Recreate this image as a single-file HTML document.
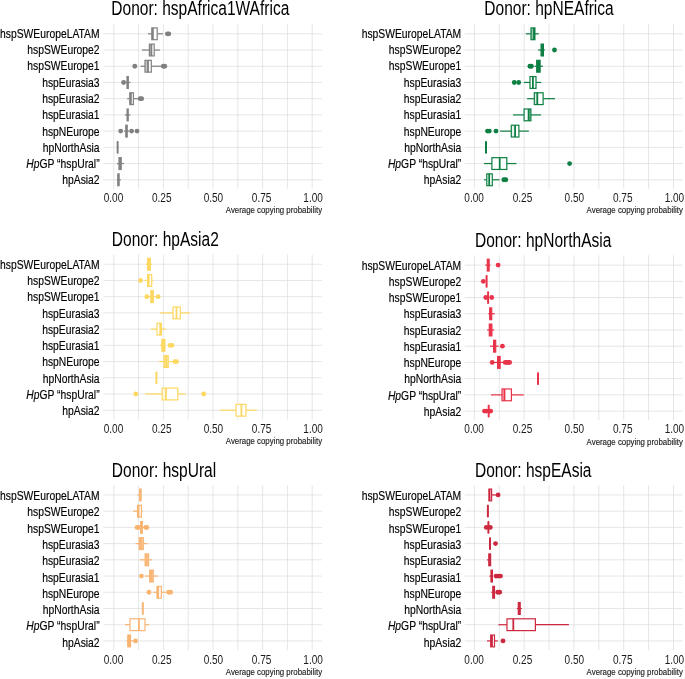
<!DOCTYPE html>
<html lang="en"><head><meta charset="utf-8"><title>Average copying probability by donor</title>
<style>html,body{margin:0;padding:0;background:#fff}svg{display:block;will-change:transform}</style></head>
<body>
<svg width="685" height="679" viewBox="0 0 685 679" font-family="'Liberation Sans', sans-serif">
<rect width="685" height="679" fill="#fff"/>
<g>
<text x="111.30" y="14.85" font-size="19.6" text-anchor="start" fill="#000" textLength="178.00" lengthAdjust="spacingAndGlyphs">Donor: hspAfrica1WAfrica</text>
<path d="M113.80 23.90V188.78M138.60 23.90V188.78M163.40 23.90V188.78M188.20 23.90V188.78M213.00 23.90V188.78M237.80 23.90V188.78M262.60 23.90V188.78M287.40 23.90V188.78M312.20 23.90V188.78M103.40 33.80H321.90M103.40 50.02H321.90M103.40 66.24H321.90M103.40 82.46H321.90M103.40 98.68H321.90M103.40 114.90H321.90M103.40 131.12H321.90M103.40 147.34H321.90M103.40 163.56H321.90M103.40 179.78H321.90" stroke="#dedede" stroke-width="0.75" fill="none"/>
<text x="99.60" y="37.90" font-size="12.6" text-anchor="end" fill="#000" textLength="99.53" lengthAdjust="spacingAndGlyphs" stroke="#000" stroke-width="0.16">hspSWEuropeLATAM</text>
<text x="99.60" y="54.17" font-size="12.6" text-anchor="end" fill="#000" textLength="72.36" lengthAdjust="spacingAndGlyphs" stroke="#000" stroke-width="0.16">hspSWEurope2</text>
<text x="99.60" y="70.44" font-size="12.6" text-anchor="end" fill="#000" textLength="72.36" lengthAdjust="spacingAndGlyphs" stroke="#000" stroke-width="0.16">hspSWEurope1</text>
<text x="99.60" y="86.71" font-size="12.6" text-anchor="end" fill="#000" textLength="57.44" lengthAdjust="spacingAndGlyphs" stroke="#000" stroke-width="0.16">hspEurasia3</text>
<text x="99.60" y="102.98" font-size="12.6" text-anchor="end" fill="#000" textLength="57.44" lengthAdjust="spacingAndGlyphs" stroke="#000" stroke-width="0.16">hspEurasia2</text>
<text x="99.60" y="119.25" font-size="12.6" text-anchor="end" fill="#000" textLength="57.44" lengthAdjust="spacingAndGlyphs" stroke="#000" stroke-width="0.16">hspEurasia1</text>
<text x="99.60" y="135.52" font-size="12.6" text-anchor="end" fill="#000" textLength="57.44" lengthAdjust="spacingAndGlyphs" stroke="#000" stroke-width="0.16">hspNEurope</text>
<text x="99.60" y="151.79" font-size="12.6" text-anchor="end" fill="#000" textLength="56.86" lengthAdjust="spacingAndGlyphs" stroke="#000" stroke-width="0.16">hpNorthAsia</text>
<text x="26.30" y="168.06" font-size="12.6" font-style="italic" stroke="#000" stroke-width="0.16" textLength="13.21" lengthAdjust="spacingAndGlyphs">Hp</text>
<text x="39.50" y="168.06" font-size="12.6" stroke="#000" stroke-width="0.16" textLength="60.10" lengthAdjust="spacingAndGlyphs">GP “hspUral”</text>
<text x="99.60" y="184.33" font-size="12.6" text-anchor="end" fill="#000" textLength="37.34" lengthAdjust="spacingAndGlyphs" stroke="#000" stroke-width="0.16">hpAsia2</text>
<text x="113.50" y="201.68" font-size="12.4" text-anchor="middle" fill="#1a1a1a" textLength="19.55" lengthAdjust="spacingAndGlyphs">0.00</text>
<text x="161.70" y="201.68" font-size="12.4" text-anchor="middle" fill="#1a1a1a" textLength="19.55" lengthAdjust="spacingAndGlyphs">0.25</text>
<text x="213.40" y="201.68" font-size="12.4" text-anchor="middle" fill="#1a1a1a" textLength="19.55" lengthAdjust="spacingAndGlyphs">0.50</text>
<text x="261.60" y="201.68" font-size="12.4" text-anchor="middle" fill="#1a1a1a" textLength="19.55" lengthAdjust="spacingAndGlyphs">0.75</text>
<text x="313.10" y="201.68" font-size="12.4" text-anchor="middle" fill="#1a1a1a" textLength="19.55" lengthAdjust="spacingAndGlyphs">1.00</text>
<text x="322.10" y="212.98" font-size="8.8" text-anchor="end" fill="#222" textLength="96.29" lengthAdjust="spacingAndGlyphs" stroke="#222" stroke-width="0.15">Average copying probability</text>
<path d="M148.00 33.80H151.80" stroke="#808080" stroke-width="1.2"/>
<path d="M157.20 33.80H162.90" stroke="#808080" stroke-width="1.2"/>
<rect x="151.80" y="27.90" width="5.40" height="11.80" fill="#fff" stroke="#808080" stroke-width="1.2"/>
<rect x="151.80" y="27.90" width="1.10" height="11.80" fill="#808080" fill-opacity="1"/>
<path d="M152.90 27.90V39.70" stroke="#808080" stroke-width="1.8"/>
<circle cx="167.40" cy="33.80" r="2.42" fill="#808080"/>
<circle cx="168.80" cy="33.80" r="2.42" fill="#808080"/>
<path d="M142.00 50.02H149.40" stroke="#808080" stroke-width="1.2"/>
<path d="M154.20 50.02H159.90" stroke="#808080" stroke-width="1.2"/>
<rect x="149.40" y="44.12" width="4.80" height="11.80" fill="#fff" stroke="#808080" stroke-width="1.2"/>
<rect x="149.40" y="44.12" width="2.00" height="11.80" fill="#808080" fill-opacity="0.45"/>
<path d="M151.40 44.12V55.92" stroke="#808080" stroke-width="1.8"/>
<path d="M140.70 66.24H145.00" stroke="#808080" stroke-width="1.2"/>
<path d="M151.30 66.24H161.10" stroke="#808080" stroke-width="1.2"/>
<rect x="145.00" y="60.34" width="6.30" height="11.80" fill="#fff" stroke="#808080" stroke-width="1.2"/>
<rect x="145.00" y="60.34" width="3.00" height="11.80" fill="#808080" fill-opacity="0.45"/>
<path d="M148.00 60.34V72.14" stroke="#808080" stroke-width="1.8"/>
<circle cx="134.80" cy="66.24" r="2.42" fill="#808080"/>
<circle cx="163.30" cy="66.24" r="2.42" fill="#808080"/>
<circle cx="164.80" cy="66.24" r="2.42" fill="#808080"/>
<path d="M125.30 82.46H127.00" stroke="#808080" stroke-width="1.2"/>
<path d="M128.30 82.46H130.40" stroke="#808080" stroke-width="1.2"/>
<rect x="127.00" y="76.56" width="1.30" height="11.80" fill="#808080" stroke="#808080" stroke-width="1.2"/>
<circle cx="123.60" cy="82.46" r="2.42" fill="#808080"/>
<path d="M127.20 98.68H129.80" stroke="#808080" stroke-width="1.2"/>
<path d="M133.40 98.68H138.10" stroke="#808080" stroke-width="1.2"/>
<rect x="129.80" y="92.78" width="3.60" height="11.80" fill="#fff" stroke="#808080" stroke-width="1.2"/>
<rect x="129.80" y="92.78" width="1.10" height="11.80" fill="#808080" fill-opacity="1"/>
<path d="M130.90 92.78V104.58" stroke="#808080" stroke-width="1.8"/>
<circle cx="140.20" cy="98.68" r="2.42" fill="#808080"/>
<circle cx="141.70" cy="98.68" r="2.42" fill="#808080"/>
<path d="M124.80 114.90H127.10" stroke="#808080" stroke-width="1.2"/>
<path d="M128.20 114.90H130.40" stroke="#808080" stroke-width="1.2"/>
<rect x="127.10" y="109.00" width="1.10" height="11.80" fill="#808080" stroke="#808080" stroke-width="1.2"/>
<path d="M124.00 131.12H125.80" stroke="#808080" stroke-width="1.2"/>
<path d="M127.20 131.12H129.00" stroke="#808080" stroke-width="1.2"/>
<rect x="125.80" y="125.22" width="1.40" height="11.80" fill="#808080" stroke="#808080" stroke-width="1.2"/>
<circle cx="120.70" cy="131.12" r="2.42" fill="#808080"/>
<circle cx="131.60" cy="131.12" r="2.42" fill="#808080"/>
<circle cx="137.00" cy="131.12" r="2.42" fill="#808080"/>
<rect x="116.65" y="140.94" width="2" height="12.80" rx="0.8" fill="#808080"/>
<path d="M117.00 163.56H119.00" stroke="#808080" stroke-width="1.2"/>
<path d="M121.20 163.56H123.90" stroke="#808080" stroke-width="1.2"/>
<rect x="119.00" y="157.66" width="2.20" height="11.80" fill="#fff" stroke="#808080" stroke-width="1.2"/>
<rect x="119.00" y="157.66" width="1.10" height="11.80" fill="#808080" fill-opacity="0.5"/>
<rect x="120.10" y="157.66" width="1.10" height="11.80" fill="#808080" fill-opacity="0.5"/>
<path d="M120.10 157.66V169.46" stroke="#808080" stroke-width="1.8"/>
<path d="M116.80 179.78H117.80" stroke="#808080" stroke-width="1.2"/>
<path d="M119.10 179.78H120.80" stroke="#808080" stroke-width="1.2"/>
<rect x="117.80" y="173.88" width="1.30" height="11.80" fill="#808080" stroke="#808080" stroke-width="1.2"/>
</g>
<g>
<text x="484.30" y="14.85" font-size="19.6" text-anchor="start" fill="#000" textLength="129.42" lengthAdjust="spacingAndGlyphs">Donor: hpNEAfrica</text>
<path d="M474.40 23.90V188.78M499.29 23.90V188.78M524.17 23.90V188.78M549.06 23.90V188.78M573.95 23.90V188.78M598.84 23.90V188.78M623.72 23.90V188.78M648.61 23.90V188.78M673.50 23.90V188.78M464.70 33.80H682.70M464.70 50.02H682.70M464.70 66.24H682.70M464.70 82.46H682.70M464.70 98.68H682.70M464.70 114.90H682.70M464.70 131.12H682.70M464.70 147.34H682.70M464.70 163.56H682.70M464.70 179.78H682.70" stroke="#dedede" stroke-width="0.75" fill="none"/>
<text x="461.20" y="37.90" font-size="12.6" text-anchor="end" fill="#000" textLength="99.53" lengthAdjust="spacingAndGlyphs" stroke="#000" stroke-width="0.16">hspSWEuropeLATAM</text>
<text x="461.20" y="54.17" font-size="12.6" text-anchor="end" fill="#000" textLength="72.36" lengthAdjust="spacingAndGlyphs" stroke="#000" stroke-width="0.16">hspSWEurope2</text>
<text x="461.20" y="70.44" font-size="12.6" text-anchor="end" fill="#000" textLength="72.36" lengthAdjust="spacingAndGlyphs" stroke="#000" stroke-width="0.16">hspSWEurope1</text>
<text x="461.20" y="86.71" font-size="12.6" text-anchor="end" fill="#000" textLength="57.44" lengthAdjust="spacingAndGlyphs" stroke="#000" stroke-width="0.16">hspEurasia3</text>
<text x="461.20" y="102.98" font-size="12.6" text-anchor="end" fill="#000" textLength="57.44" lengthAdjust="spacingAndGlyphs" stroke="#000" stroke-width="0.16">hspEurasia2</text>
<text x="461.20" y="119.25" font-size="12.6" text-anchor="end" fill="#000" textLength="57.44" lengthAdjust="spacingAndGlyphs" stroke="#000" stroke-width="0.16">hspEurasia1</text>
<text x="461.20" y="135.52" font-size="12.6" text-anchor="end" fill="#000" textLength="57.44" lengthAdjust="spacingAndGlyphs" stroke="#000" stroke-width="0.16">hspNEurope</text>
<text x="461.20" y="151.79" font-size="12.6" text-anchor="end" fill="#000" textLength="56.86" lengthAdjust="spacingAndGlyphs" stroke="#000" stroke-width="0.16">hpNorthAsia</text>
<text x="387.90" y="168.06" font-size="12.6" font-style="italic" stroke="#000" stroke-width="0.16" textLength="13.21" lengthAdjust="spacingAndGlyphs">Hp</text>
<text x="401.10" y="168.06" font-size="12.6" stroke="#000" stroke-width="0.16" textLength="60.10" lengthAdjust="spacingAndGlyphs">GP “hspUral”</text>
<text x="461.20" y="184.33" font-size="12.6" text-anchor="end" fill="#000" textLength="37.34" lengthAdjust="spacingAndGlyphs" stroke="#000" stroke-width="0.16">hpAsia2</text>
<text x="474.10" y="201.68" font-size="12.4" text-anchor="middle" fill="#1a1a1a" textLength="19.55" lengthAdjust="spacingAndGlyphs">0.00</text>
<text x="522.47" y="201.68" font-size="12.4" text-anchor="middle" fill="#1a1a1a" textLength="19.55" lengthAdjust="spacingAndGlyphs">0.25</text>
<text x="574.35" y="201.68" font-size="12.4" text-anchor="middle" fill="#1a1a1a" textLength="19.55" lengthAdjust="spacingAndGlyphs">0.50</text>
<text x="622.72" y="201.68" font-size="12.4" text-anchor="middle" fill="#1a1a1a" textLength="19.55" lengthAdjust="spacingAndGlyphs">0.75</text>
<text x="674.40" y="201.68" font-size="12.4" text-anchor="middle" fill="#1a1a1a" textLength="19.55" lengthAdjust="spacingAndGlyphs">1.00</text>
<text x="682.90" y="212.98" font-size="8.8" text-anchor="end" fill="#222" textLength="96.29" lengthAdjust="spacingAndGlyphs" stroke="#222" stroke-width="0.15">Average copying probability</text>
<path d="M525.80 33.80H531.00" stroke="#0d7f43" stroke-width="1.2"/>
<path d="M534.90 33.80H538.80" stroke="#0d7f43" stroke-width="1.2"/>
<rect x="531.00" y="27.90" width="3.90" height="11.80" fill="#fff" stroke="#0d7f43" stroke-width="1.2"/>
<rect x="531.00" y="27.90" width="3.00" height="11.80" fill="#0d7f43" fill-opacity="0.45"/>
<rect x="534.00" y="27.90" width="0.90" height="11.80" fill="#0d7f43" fill-opacity="1"/>
<path d="M534.00 27.90V39.70" stroke="#0d7f43" stroke-width="1.8"/>
<path d="M538.10 50.02H541.10" stroke="#0d7f43" stroke-width="1.2"/>
<path d="M543.40 50.02H545.00" stroke="#0d7f43" stroke-width="1.2"/>
<rect x="541.10" y="44.12" width="2.30" height="11.80" fill="#0d7f43" stroke="#0d7f43" stroke-width="1.2"/>
<circle cx="554.50" cy="50.02" r="2.42" fill="#0d7f43"/>
<path d="M534.50 66.24H536.70" stroke="#0d7f43" stroke-width="1.2"/>
<path d="M540.10 66.24H542.90" stroke="#0d7f43" stroke-width="1.2"/>
<rect x="536.70" y="60.34" width="3.40" height="11.80" fill="#0d7f43" stroke="#0d7f43" stroke-width="1.2"/>
<circle cx="529.90" cy="66.24" r="2.42" fill="#0d7f43"/>
<circle cx="531.40" cy="66.24" r="2.42" fill="#0d7f43"/>
<path d="M523.80 82.46H530.00" stroke="#0d7f43" stroke-width="1.2"/>
<path d="M536.00 82.46H541.10" stroke="#0d7f43" stroke-width="1.2"/>
<rect x="530.00" y="76.56" width="6.00" height="11.80" fill="#fff" stroke="#0d7f43" stroke-width="1.2"/>
<path d="M532.90 76.56V88.36" stroke="#0d7f43" stroke-width="1.8"/>
<circle cx="514.30" cy="82.46" r="2.42" fill="#0d7f43"/>
<circle cx="518.70" cy="82.46" r="2.42" fill="#0d7f43"/>
<path d="M527.10 98.68H534.30" stroke="#0d7f43" stroke-width="1.2"/>
<path d="M543.10 98.68H555.00" stroke="#0d7f43" stroke-width="1.2"/>
<rect x="534.30" y="92.78" width="8.80" height="11.80" fill="#fff" stroke="#0d7f43" stroke-width="1.2"/>
<rect x="534.30" y="92.78" width="3.00" height="11.80" fill="#0d7f43" fill-opacity="0.15"/>
<path d="M537.30 92.78V104.58" stroke="#0d7f43" stroke-width="1.8"/>
<path d="M513.10 114.90H524.10" stroke="#0d7f43" stroke-width="1.2"/>
<path d="M530.90 114.90H541.10" stroke="#0d7f43" stroke-width="1.2"/>
<rect x="524.10" y="109.00" width="6.80" height="11.80" fill="#fff" stroke="#0d7f43" stroke-width="1.2"/>
<rect x="528.60" y="109.00" width="2.30" height="11.80" fill="#0d7f43" fill-opacity="0.45"/>
<path d="M528.60 109.00V120.80" stroke="#0d7f43" stroke-width="1.8"/>
<path d="M500.10 131.12H511.30" stroke="#0d7f43" stroke-width="1.2"/>
<path d="M518.90 131.12H528.80" stroke="#0d7f43" stroke-width="1.2"/>
<rect x="511.30" y="125.22" width="7.60" height="11.80" fill="#fff" stroke="#0d7f43" stroke-width="1.2"/>
<rect x="511.30" y="125.22" width="3.80" height="11.80" fill="#0d7f43" fill-opacity="0.1"/>
<path d="M515.10 125.22V137.02" stroke="#0d7f43" stroke-width="1.8"/>
<circle cx="487.50" cy="131.12" r="2.42" fill="#0d7f43"/>
<circle cx="489.30" cy="131.12" r="2.42" fill="#0d7f43"/>
<circle cx="496.00" cy="131.12" r="2.42" fill="#0d7f43"/>
<rect x="485.00" y="140.94" width="2" height="12.80" rx="0.8" fill="#0d7f43"/>
<path d="M484.10 163.56H491.90" stroke="#0d7f43" stroke-width="1.2"/>
<path d="M506.80 163.56H516.40" stroke="#0d7f43" stroke-width="1.2"/>
<rect x="491.90" y="157.66" width="14.90" height="11.80" fill="#fff" stroke="#0d7f43" stroke-width="1.2"/>
<path d="M499.70 157.66V169.46" stroke="#0d7f43" stroke-width="1.8"/>
<circle cx="569.60" cy="163.56" r="2.42" fill="#0d7f43"/>
<path d="M484.10 179.78H486.80" stroke="#0d7f43" stroke-width="1.2"/>
<path d="M492.30 179.78H499.40" stroke="#0d7f43" stroke-width="1.2"/>
<rect x="486.80" y="173.88" width="5.50" height="11.80" fill="#fff" stroke="#0d7f43" stroke-width="1.2"/>
<path d="M489.20 173.88V185.68" stroke="#0d7f43" stroke-width="1.8"/>
<circle cx="503.80" cy="179.78" r="2.42" fill="#0d7f43"/>
<circle cx="505.80" cy="179.78" r="2.42" fill="#0d7f43"/>
</g>
<g>
<text x="111.80" y="245.76" font-size="19.6" text-anchor="start" fill="#000" textLength="107.00" lengthAdjust="spacingAndGlyphs">Donor: hpAsia2</text>
<path d="M113.80 254.65V419.53M138.60 254.65V419.53M163.40 254.65V419.53M188.20 254.65V419.53M213.00 254.65V419.53M237.80 254.65V419.53M262.60 254.65V419.53M287.40 254.65V419.53M312.20 254.65V419.53M103.40 264.25H321.90M103.40 280.47H321.90M103.40 296.69H321.90M103.40 312.91H321.90M103.40 329.13H321.90M103.40 345.35H321.90M103.40 361.57H321.90M103.40 377.79H321.90M103.40 394.01H321.90M103.40 410.23H321.90" stroke="#dedede" stroke-width="0.75" fill="none"/>
<text x="99.60" y="268.81" font-size="12.6" text-anchor="end" fill="#000" textLength="99.53" lengthAdjust="spacingAndGlyphs" stroke="#000" stroke-width="0.16">hspSWEuropeLATAM</text>
<text x="99.60" y="285.08" font-size="12.6" text-anchor="end" fill="#000" textLength="72.36" lengthAdjust="spacingAndGlyphs" stroke="#000" stroke-width="0.16">hspSWEurope2</text>
<text x="99.60" y="301.35" font-size="12.6" text-anchor="end" fill="#000" textLength="72.36" lengthAdjust="spacingAndGlyphs" stroke="#000" stroke-width="0.16">hspSWEurope1</text>
<text x="99.60" y="317.62" font-size="12.6" text-anchor="end" fill="#000" textLength="57.44" lengthAdjust="spacingAndGlyphs" stroke="#000" stroke-width="0.16">hspEurasia3</text>
<text x="99.60" y="333.89" font-size="12.6" text-anchor="end" fill="#000" textLength="57.44" lengthAdjust="spacingAndGlyphs" stroke="#000" stroke-width="0.16">hspEurasia2</text>
<text x="99.60" y="350.16" font-size="12.6" text-anchor="end" fill="#000" textLength="57.44" lengthAdjust="spacingAndGlyphs" stroke="#000" stroke-width="0.16">hspEurasia1</text>
<text x="99.60" y="366.43" font-size="12.6" text-anchor="end" fill="#000" textLength="57.44" lengthAdjust="spacingAndGlyphs" stroke="#000" stroke-width="0.16">hspNEurope</text>
<text x="99.60" y="382.70" font-size="12.6" text-anchor="end" fill="#000" textLength="56.86" lengthAdjust="spacingAndGlyphs" stroke="#000" stroke-width="0.16">hpNorthAsia</text>
<text x="26.30" y="398.97" font-size="12.6" font-style="italic" stroke="#000" stroke-width="0.16" textLength="13.21" lengthAdjust="spacingAndGlyphs">Hp</text>
<text x="39.50" y="398.97" font-size="12.6" stroke="#000" stroke-width="0.16" textLength="60.10" lengthAdjust="spacingAndGlyphs">GP “hspUral”</text>
<text x="99.60" y="415.24" font-size="12.6" text-anchor="end" fill="#000" textLength="37.34" lengthAdjust="spacingAndGlyphs" stroke="#000" stroke-width="0.16">hpAsia2</text>
<text x="113.50" y="432.63" font-size="12.4" text-anchor="middle" fill="#1a1a1a" textLength="19.55" lengthAdjust="spacingAndGlyphs">0.00</text>
<text x="161.70" y="432.63" font-size="12.4" text-anchor="middle" fill="#1a1a1a" textLength="19.55" lengthAdjust="spacingAndGlyphs">0.25</text>
<text x="213.40" y="432.63" font-size="12.4" text-anchor="middle" fill="#1a1a1a" textLength="19.55" lengthAdjust="spacingAndGlyphs">0.50</text>
<text x="261.60" y="432.63" font-size="12.4" text-anchor="middle" fill="#1a1a1a" textLength="19.55" lengthAdjust="spacingAndGlyphs">0.75</text>
<text x="313.10" y="432.63" font-size="12.4" text-anchor="middle" fill="#1a1a1a" textLength="19.55" lengthAdjust="spacingAndGlyphs">1.00</text>
<text x="322.10" y="443.93" font-size="8.8" text-anchor="end" fill="#222" textLength="96.29" lengthAdjust="spacingAndGlyphs" stroke="#222" stroke-width="0.15">Average copying probability</text>
<path d="M145.90 264.25H147.60" stroke="#fcd862" stroke-width="1.2"/>
<path d="M150.30 264.25H152.00" stroke="#fcd862" stroke-width="1.2"/>
<rect x="147.60" y="258.35" width="2.70" height="11.80" fill="#fcd862" stroke="#fcd862" stroke-width="1.2"/>
<path d="M144.90 280.47H147.60" stroke="#fcd862" stroke-width="1.2"/>
<path d="M151.70 280.47H153.10" stroke="#fcd862" stroke-width="1.2"/>
<rect x="147.60" y="274.57" width="4.10" height="11.80" fill="#fff" stroke="#fcd862" stroke-width="1.2"/>
<rect x="147.60" y="274.57" width="1.10" height="11.80" fill="#fcd862" fill-opacity="1"/>
<path d="M148.70 274.57V286.37" stroke="#fcd862" stroke-width="1.8"/>
<circle cx="140.50" cy="280.47" r="2.42" fill="#fcd862"/>
<path d="M149.00 296.69H150.80" stroke="#fcd862" stroke-width="1.2"/>
<path d="M153.30 296.69H155.70" stroke="#fcd862" stroke-width="1.2"/>
<rect x="150.80" y="290.79" width="2.50" height="11.80" fill="#fcd862" stroke="#fcd862" stroke-width="1.2"/>
<circle cx="146.80" cy="296.69" r="2.42" fill="#fcd862"/>
<circle cx="158.20" cy="296.69" r="2.42" fill="#fcd862"/>
<path d="M160.10 312.91H173.00" stroke="#fcd862" stroke-width="1.2"/>
<path d="M180.30 312.91H190.10" stroke="#fcd862" stroke-width="1.2"/>
<rect x="173.00" y="307.01" width="7.30" height="11.80" fill="#fff" stroke="#fcd862" stroke-width="1.2"/>
<path d="M176.50 307.01V318.81" stroke="#fcd862" stroke-width="1.8"/>
<path d="M151.00 329.13H157.00" stroke="#fcd862" stroke-width="1.2"/>
<path d="M161.40 329.13H166.10" stroke="#fcd862" stroke-width="1.2"/>
<rect x="157.00" y="323.23" width="4.40" height="11.80" fill="#fff" stroke="#fcd862" stroke-width="1.2"/>
<rect x="160.20" y="323.23" width="1.20" height="11.80" fill="#fcd862" fill-opacity="1"/>
<path d="M160.20 323.23V335.03" stroke="#fcd862" stroke-width="1.8"/>
<path d="M160.10 345.35H161.90" stroke="#fcd862" stroke-width="1.2"/>
<rect x="161.90" y="339.45" width="3.00" height="11.80" fill="#fcd862" stroke="#fcd862" stroke-width="1.2"/>
<circle cx="170.10" cy="345.35" r="2.42" fill="#fcd862"/>
<circle cx="171.90" cy="345.35" r="2.42" fill="#fcd862"/>
<path d="M159.00 361.57H164.00" stroke="#fcd862" stroke-width="1.2"/>
<path d="M168.20 361.57H172.40" stroke="#fcd862" stroke-width="1.2"/>
<rect x="164.00" y="355.67" width="4.20" height="11.80" fill="#fff" stroke="#fcd862" stroke-width="1.2"/>
<rect x="164.00" y="355.67" width="2.20" height="11.80" fill="#fcd862" fill-opacity="0.6"/>
<rect x="166.20" y="355.67" width="2.00" height="11.80" fill="#fcd862" fill-opacity="0.6"/>
<path d="M166.20 355.67V367.47" stroke="#fcd862" stroke-width="1.8"/>
<circle cx="174.90" cy="361.57" r="2.42" fill="#fcd862"/>
<circle cx="176.50" cy="361.57" r="2.42" fill="#fcd862"/>
<rect x="155.40" y="371.39" width="2" height="12.80" rx="0.8" fill="#fcd862"/>
<path d="M145.10 394.01H162.20" stroke="#fcd862" stroke-width="1.2"/>
<path d="M177.80 394.01H185.60" stroke="#fcd862" stroke-width="1.2"/>
<rect x="162.20" y="388.11" width="15.60" height="11.80" fill="#fff" stroke="#fcd862" stroke-width="1.2"/>
<rect x="162.20" y="388.11" width="3.80" height="11.80" fill="#fcd862" fill-opacity="0.2"/>
<path d="M166.00 388.11V399.91" stroke="#fcd862" stroke-width="1.8"/>
<circle cx="135.80" cy="394.01" r="2.42" fill="#fcd862"/>
<circle cx="203.70" cy="394.01" r="2.42" fill="#fcd862"/>
<path d="M220.30 410.23H236.00" stroke="#fcd862" stroke-width="1.2"/>
<path d="M245.90 410.23H256.90" stroke="#fcd862" stroke-width="1.2"/>
<rect x="236.00" y="404.33" width="9.90" height="11.80" fill="#fff" stroke="#fcd862" stroke-width="1.2"/>
<path d="M241.40 404.33V416.13" stroke="#fcd862" stroke-width="1.8"/>
</g>
<g>
<text x="475.00" y="246.55" font-size="19.6" text-anchor="start" fill="#000" textLength="136.33" lengthAdjust="spacingAndGlyphs">Donor: hpNorthAsia</text>
<path d="M474.40 255.20V420.08M499.29 255.20V420.08M524.17 255.20V420.08M549.06 255.20V420.08M573.95 255.20V420.08M598.84 255.20V420.08M623.72 255.20V420.08M648.61 255.20V420.08M673.50 255.20V420.08M464.70 265.10H682.70M464.70 281.32H682.70M464.70 297.54H682.70M464.70 313.76H682.70M464.70 329.98H682.70M464.70 346.20H682.70M464.70 362.42H682.70M464.70 378.64H682.70M464.70 394.86H682.70M464.70 411.08H682.70" stroke="#dedede" stroke-width="0.75" fill="none"/>
<text x="461.20" y="269.60" font-size="12.6" text-anchor="end" fill="#000" textLength="99.53" lengthAdjust="spacingAndGlyphs" stroke="#000" stroke-width="0.16">hspSWEuropeLATAM</text>
<text x="461.20" y="285.87" font-size="12.6" text-anchor="end" fill="#000" textLength="72.36" lengthAdjust="spacingAndGlyphs" stroke="#000" stroke-width="0.16">hspSWEurope2</text>
<text x="461.20" y="302.14" font-size="12.6" text-anchor="end" fill="#000" textLength="72.36" lengthAdjust="spacingAndGlyphs" stroke="#000" stroke-width="0.16">hspSWEurope1</text>
<text x="461.20" y="318.41" font-size="12.6" text-anchor="end" fill="#000" textLength="57.44" lengthAdjust="spacingAndGlyphs" stroke="#000" stroke-width="0.16">hspEurasia3</text>
<text x="461.20" y="334.68" font-size="12.6" text-anchor="end" fill="#000" textLength="57.44" lengthAdjust="spacingAndGlyphs" stroke="#000" stroke-width="0.16">hspEurasia2</text>
<text x="461.20" y="350.95" font-size="12.6" text-anchor="end" fill="#000" textLength="57.44" lengthAdjust="spacingAndGlyphs" stroke="#000" stroke-width="0.16">hspEurasia1</text>
<text x="461.20" y="367.22" font-size="12.6" text-anchor="end" fill="#000" textLength="57.44" lengthAdjust="spacingAndGlyphs" stroke="#000" stroke-width="0.16">hspNEurope</text>
<text x="461.20" y="383.49" font-size="12.6" text-anchor="end" fill="#000" textLength="56.86" lengthAdjust="spacingAndGlyphs" stroke="#000" stroke-width="0.16">hpNorthAsia</text>
<text x="387.90" y="399.76" font-size="12.6" font-style="italic" stroke="#000" stroke-width="0.16" textLength="13.21" lengthAdjust="spacingAndGlyphs">Hp</text>
<text x="401.10" y="399.76" font-size="12.6" stroke="#000" stroke-width="0.16" textLength="60.10" lengthAdjust="spacingAndGlyphs">GP “hspUral”</text>
<text x="461.20" y="416.03" font-size="12.6" text-anchor="end" fill="#000" textLength="37.34" lengthAdjust="spacingAndGlyphs" stroke="#000" stroke-width="0.16">hpAsia2</text>
<text x="474.10" y="433.48" font-size="12.4" text-anchor="middle" fill="#1a1a1a" textLength="19.55" lengthAdjust="spacingAndGlyphs">0.00</text>
<text x="522.47" y="433.48" font-size="12.4" text-anchor="middle" fill="#1a1a1a" textLength="19.55" lengthAdjust="spacingAndGlyphs">0.25</text>
<text x="574.35" y="433.48" font-size="12.4" text-anchor="middle" fill="#1a1a1a" textLength="19.55" lengthAdjust="spacingAndGlyphs">0.50</text>
<text x="622.72" y="433.48" font-size="12.4" text-anchor="middle" fill="#1a1a1a" textLength="19.55" lengthAdjust="spacingAndGlyphs">0.75</text>
<text x="674.40" y="433.48" font-size="12.4" text-anchor="middle" fill="#1a1a1a" textLength="19.55" lengthAdjust="spacingAndGlyphs">1.00</text>
<text x="682.90" y="444.78" font-size="8.8" text-anchor="end" fill="#222" textLength="96.29" lengthAdjust="spacingAndGlyphs" stroke="#222" stroke-width="0.15">Average copying probability</text>
<path d="M485.30 265.10H487.30" stroke="#e8334a" stroke-width="1.2"/>
<path d="M489.10 265.10H490.40" stroke="#e8334a" stroke-width="1.2"/>
<rect x="487.30" y="259.20" width="1.80" height="11.80" fill="#e8334a" stroke="#e8334a" stroke-width="1.2"/>
<circle cx="498.10" cy="265.10" r="2.42" fill="#e8334a"/>
<rect x="485.60" y="274.92" width="2" height="12.80" rx="0.8" fill="#e8334a"/>
<circle cx="483.30" cy="281.32" r="2.42" fill="#e8334a"/>
<rect x="487.10" y="291.14" width="2" height="12.80" rx="0.8" fill="#e8334a"/>
<circle cx="485.80" cy="297.54" r="2.42" fill="#e8334a"/>
<circle cx="491.70" cy="297.54" r="2.42" fill="#e8334a"/>
<path d="M488.20 313.76H489.70" stroke="#e8334a" stroke-width="1.2"/>
<path d="M491.70 313.76H494.80" stroke="#e8334a" stroke-width="1.2"/>
<rect x="489.70" y="307.86" width="2.00" height="11.80" fill="#e8334a" stroke="#e8334a" stroke-width="1.2"/>
<path d="M487.10 329.98H489.30" stroke="#e8334a" stroke-width="1.2"/>
<path d="M491.90 329.98H494.20" stroke="#e8334a" stroke-width="1.2"/>
<rect x="489.30" y="324.08" width="2.60" height="11.80" fill="#e8334a" stroke="#e8334a" stroke-width="1.2"/>
<path d="M489.90 346.20H493.60" stroke="#e8334a" stroke-width="1.2"/>
<path d="M495.70 346.20H498.60" stroke="#e8334a" stroke-width="1.2"/>
<rect x="493.60" y="340.30" width="2.10" height="11.80" fill="#e8334a" stroke="#e8334a" stroke-width="1.2"/>
<circle cx="502.40" cy="346.20" r="2.42" fill="#e8334a"/>
<path d="M494.00 362.42H497.60" stroke="#e8334a" stroke-width="1.2"/>
<path d="M500.10 362.42H503.50" stroke="#e8334a" stroke-width="1.2"/>
<rect x="497.60" y="356.52" width="2.50" height="11.80" fill="#e8334a" stroke="#e8334a" stroke-width="1.2"/>
<circle cx="492.20" cy="362.42" r="2.42" fill="#e8334a"/>
<circle cx="505.20" cy="362.42" r="2.42" fill="#e8334a"/>
<circle cx="506.70" cy="362.42" r="2.42" fill="#e8334a"/>
<circle cx="508.20" cy="362.42" r="2.42" fill="#e8334a"/>
<circle cx="509.60" cy="362.42" r="2.42" fill="#e8334a"/>
<rect x="537.00" y="372.24" width="2" height="12.80" rx="0.8" fill="#e8334a"/>
<path d="M490.90 394.86H502.00" stroke="#e8334a" stroke-width="1.2"/>
<path d="M511.40 394.86H523.80" stroke="#e8334a" stroke-width="1.2"/>
<rect x="502.00" y="388.96" width="9.40" height="11.80" fill="#fff" stroke="#e8334a" stroke-width="1.2"/>
<rect x="502.00" y="388.96" width="2.50" height="11.80" fill="#e8334a" fill-opacity="0.35"/>
<path d="M504.50 388.96V400.76" stroke="#e8334a" stroke-width="1.8"/>
<rect x="487.70" y="404.68" width="2" height="12.80" rx="0.8" fill="#e8334a"/>
<circle cx="484.50" cy="411.08" r="2.42" fill="#e8334a"/>
<circle cx="486.50" cy="411.08" r="2.42" fill="#e8334a"/>
<circle cx="490.70" cy="411.08" r="2.42" fill="#e8334a"/>
</g>
<g>
<text x="111.80" y="477.10" font-size="19.6" text-anchor="start" fill="#000" textLength="104.40" lengthAdjust="spacingAndGlyphs">Donor: hspUral</text>
<path d="M113.80 485.35V650.23M138.60 485.35V650.23M163.40 485.35V650.23M188.20 485.35V650.23M213.00 485.35V650.23M237.80 485.35V650.23M262.60 485.35V650.23M287.40 485.35V650.23M312.20 485.35V650.23M103.40 494.95H321.90M103.40 511.17H321.90M103.40 527.39H321.90M103.40 543.61H321.90M103.40 559.83H321.90M103.40 576.05H321.90M103.40 592.27H321.90M103.40 608.49H321.90M103.40 624.71H321.90M103.40 640.93H321.90" stroke="#dedede" stroke-width="0.75" fill="none"/>
<text x="99.60" y="500.15" font-size="12.6" text-anchor="end" fill="#000" textLength="99.53" lengthAdjust="spacingAndGlyphs" stroke="#000" stroke-width="0.16">hspSWEuropeLATAM</text>
<text x="99.60" y="516.42" font-size="12.6" text-anchor="end" fill="#000" textLength="72.36" lengthAdjust="spacingAndGlyphs" stroke="#000" stroke-width="0.16">hspSWEurope2</text>
<text x="99.60" y="532.69" font-size="12.6" text-anchor="end" fill="#000" textLength="72.36" lengthAdjust="spacingAndGlyphs" stroke="#000" stroke-width="0.16">hspSWEurope1</text>
<text x="99.60" y="548.96" font-size="12.6" text-anchor="end" fill="#000" textLength="57.44" lengthAdjust="spacingAndGlyphs" stroke="#000" stroke-width="0.16">hspEurasia3</text>
<text x="99.60" y="565.23" font-size="12.6" text-anchor="end" fill="#000" textLength="57.44" lengthAdjust="spacingAndGlyphs" stroke="#000" stroke-width="0.16">hspEurasia2</text>
<text x="99.60" y="581.50" font-size="12.6" text-anchor="end" fill="#000" textLength="57.44" lengthAdjust="spacingAndGlyphs" stroke="#000" stroke-width="0.16">hspEurasia1</text>
<text x="99.60" y="597.77" font-size="12.6" text-anchor="end" fill="#000" textLength="57.44" lengthAdjust="spacingAndGlyphs" stroke="#000" stroke-width="0.16">hspNEurope</text>
<text x="99.60" y="614.04" font-size="12.6" text-anchor="end" fill="#000" textLength="56.86" lengthAdjust="spacingAndGlyphs" stroke="#000" stroke-width="0.16">hpNorthAsia</text>
<text x="26.30" y="630.31" font-size="12.6" font-style="italic" stroke="#000" stroke-width="0.16" textLength="13.21" lengthAdjust="spacingAndGlyphs">Hp</text>
<text x="39.50" y="630.31" font-size="12.6" stroke="#000" stroke-width="0.16" textLength="60.10" lengthAdjust="spacingAndGlyphs">GP “hspUral”</text>
<text x="99.60" y="646.58" font-size="12.6" text-anchor="end" fill="#000" textLength="37.34" lengthAdjust="spacingAndGlyphs" stroke="#000" stroke-width="0.16">hpAsia2</text>
<text x="113.50" y="664.13" font-size="12.4" text-anchor="middle" fill="#1a1a1a" textLength="19.55" lengthAdjust="spacingAndGlyphs">0.00</text>
<text x="161.70" y="664.13" font-size="12.4" text-anchor="middle" fill="#1a1a1a" textLength="19.55" lengthAdjust="spacingAndGlyphs">0.25</text>
<text x="213.40" y="664.13" font-size="12.4" text-anchor="middle" fill="#1a1a1a" textLength="19.55" lengthAdjust="spacingAndGlyphs">0.50</text>
<text x="261.60" y="664.13" font-size="12.4" text-anchor="middle" fill="#1a1a1a" textLength="19.55" lengthAdjust="spacingAndGlyphs">0.75</text>
<text x="313.10" y="664.13" font-size="12.4" text-anchor="middle" fill="#1a1a1a" textLength="19.55" lengthAdjust="spacingAndGlyphs">1.00</text>
<text x="322.10" y="675.43" font-size="8.8" text-anchor="end" fill="#222" textLength="96.29" lengthAdjust="spacingAndGlyphs" stroke="#222" stroke-width="0.15">Average copying probability</text>
<path d="M137.40 494.95H139.70" stroke="#f9b472" stroke-width="1.2"/>
<rect x="139.70" y="489.05" width="1.40" height="11.80" fill="#f9b472" stroke="#f9b472" stroke-width="1.2"/>
<path d="M133.00 511.17H137.50" stroke="#f9b472" stroke-width="1.2"/>
<path d="M141.40 511.17H142.70" stroke="#f9b472" stroke-width="1.2"/>
<rect x="137.50" y="505.27" width="3.90" height="11.80" fill="#fff" stroke="#f9b472" stroke-width="1.2"/>
<rect x="137.50" y="505.27" width="1.10" height="11.80" fill="#f9b472" fill-opacity="1"/>
<path d="M138.60 505.27V517.07" stroke="#f9b472" stroke-width="1.8"/>
<path d="M138.50 527.39H140.70" stroke="#f9b472" stroke-width="1.2"/>
<path d="M142.30 527.39H145.50" stroke="#f9b472" stroke-width="1.2"/>
<rect x="140.70" y="521.49" width="1.60" height="11.80" fill="#f9b472" stroke="#f9b472" stroke-width="1.2"/>
<circle cx="137.00" cy="527.39" r="2.42" fill="#f9b472"/>
<circle cx="138.50" cy="527.39" r="2.42" fill="#f9b472"/>
<circle cx="145.80" cy="527.39" r="2.42" fill="#f9b472"/>
<circle cx="146.80" cy="527.39" r="2.42" fill="#f9b472"/>
<path d="M135.50 543.61H139.20" stroke="#f9b472" stroke-width="1.2"/>
<path d="M143.30 543.61H147.30" stroke="#f9b472" stroke-width="1.2"/>
<rect x="139.20" y="537.71" width="4.10" height="11.80" fill="#fff" stroke="#f9b472" stroke-width="1.2"/>
<rect x="139.20" y="537.71" width="1.80" height="11.80" fill="#f9b472" fill-opacity="0.6"/>
<rect x="141.00" y="537.71" width="2.30" height="11.80" fill="#f9b472" fill-opacity="0.6"/>
<path d="M141.00 537.71V549.51" stroke="#f9b472" stroke-width="1.8"/>
<path d="M139.60 559.83H145.10" stroke="#f9b472" stroke-width="1.2"/>
<path d="M148.50 559.83H151.90" stroke="#f9b472" stroke-width="1.2"/>
<rect x="145.10" y="553.93" width="3.40" height="11.80" fill="#fff" stroke="#f9b472" stroke-width="1.2"/>
<rect x="145.10" y="553.93" width="1.50" height="11.80" fill="#f9b472" fill-opacity="0.6"/>
<rect x="146.60" y="553.93" width="1.90" height="11.80" fill="#f9b472" fill-opacity="0.6"/>
<path d="M146.60 553.93V565.73" stroke="#f9b472" stroke-width="1.8"/>
<path d="M145.00 576.05H149.70" stroke="#f9b472" stroke-width="1.2"/>
<path d="M153.30 576.05H157.80" stroke="#f9b472" stroke-width="1.2"/>
<rect x="149.70" y="570.15" width="3.60" height="11.80" fill="#fff" stroke="#f9b472" stroke-width="1.2"/>
<rect x="149.70" y="570.15" width="1.60" height="11.80" fill="#f9b472" fill-opacity="0.7"/>
<rect x="151.30" y="570.15" width="2.00" height="11.80" fill="#f9b472" fill-opacity="0.7"/>
<path d="M151.30 570.15V581.95" stroke="#f9b472" stroke-width="1.8"/>
<circle cx="141.40" cy="576.05" r="2.42" fill="#f9b472"/>
<path d="M153.30 592.27H157.00" stroke="#f9b472" stroke-width="1.2"/>
<path d="M161.30 592.27H166.20" stroke="#f9b472" stroke-width="1.2"/>
<rect x="157.00" y="586.37" width="4.30" height="11.80" fill="#fff" stroke="#f9b472" stroke-width="1.2"/>
<rect x="157.00" y="586.37" width="1.20" height="11.80" fill="#f9b472" fill-opacity="1"/>
<path d="M158.20 586.37V598.17" stroke="#f9b472" stroke-width="1.8"/>
<circle cx="149.00" cy="592.27" r="2.42" fill="#f9b472"/>
<circle cx="168.60" cy="592.27" r="2.42" fill="#f9b472"/>
<circle cx="170.60" cy="592.27" r="2.42" fill="#f9b472"/>
<rect x="141.80" y="602.09" width="2" height="12.80" rx="0.8" fill="#f9b472"/>
<path d="M124.90 624.71H130.00" stroke="#f9b472" stroke-width="1.2"/>
<path d="M145.00 624.71H149.00" stroke="#f9b472" stroke-width="1.2"/>
<rect x="130.00" y="618.81" width="15.00" height="11.80" fill="#fff" stroke="#f9b472" stroke-width="1.2"/>
<path d="M138.90 618.81V630.61" stroke="#f9b472" stroke-width="1.8"/>
<path d="M126.50 640.93H127.80" stroke="#f9b472" stroke-width="1.2"/>
<path d="M130.50 640.93H133.80" stroke="#f9b472" stroke-width="1.2"/>
<rect x="127.80" y="635.03" width="2.70" height="11.80" fill="#f9b472" stroke="#f9b472" stroke-width="1.2"/>
<circle cx="135.60" cy="640.93" r="2.42" fill="#f9b472"/>
</g>
<g>
<text x="475.00" y="477.10" font-size="19.6" text-anchor="start" fill="#000" textLength="116.49" lengthAdjust="spacingAndGlyphs">Donor: hspEAsia</text>
<path d="M474.40 485.35V650.23M499.29 485.35V650.23M524.17 485.35V650.23M549.06 485.35V650.23M573.95 485.35V650.23M598.84 485.35V650.23M623.72 485.35V650.23M648.61 485.35V650.23M673.50 485.35V650.23M464.70 494.95H682.70M464.70 511.17H682.70M464.70 527.39H682.70M464.70 543.61H682.70M464.70 559.83H682.70M464.70 576.05H682.70M464.70 592.27H682.70M464.70 608.49H682.70M464.70 624.71H682.70M464.70 640.93H682.70" stroke="#dedede" stroke-width="0.75" fill="none"/>
<text x="461.20" y="500.15" font-size="12.6" text-anchor="end" fill="#000" textLength="99.53" lengthAdjust="spacingAndGlyphs" stroke="#000" stroke-width="0.16">hspSWEuropeLATAM</text>
<text x="461.20" y="516.42" font-size="12.6" text-anchor="end" fill="#000" textLength="72.36" lengthAdjust="spacingAndGlyphs" stroke="#000" stroke-width="0.16">hspSWEurope2</text>
<text x="461.20" y="532.69" font-size="12.6" text-anchor="end" fill="#000" textLength="72.36" lengthAdjust="spacingAndGlyphs" stroke="#000" stroke-width="0.16">hspSWEurope1</text>
<text x="461.20" y="548.96" font-size="12.6" text-anchor="end" fill="#000" textLength="57.44" lengthAdjust="spacingAndGlyphs" stroke="#000" stroke-width="0.16">hspEurasia3</text>
<text x="461.20" y="565.23" font-size="12.6" text-anchor="end" fill="#000" textLength="57.44" lengthAdjust="spacingAndGlyphs" stroke="#000" stroke-width="0.16">hspEurasia2</text>
<text x="461.20" y="581.50" font-size="12.6" text-anchor="end" fill="#000" textLength="57.44" lengthAdjust="spacingAndGlyphs" stroke="#000" stroke-width="0.16">hspEurasia1</text>
<text x="461.20" y="597.77" font-size="12.6" text-anchor="end" fill="#000" textLength="57.44" lengthAdjust="spacingAndGlyphs" stroke="#000" stroke-width="0.16">hspNEurope</text>
<text x="461.20" y="614.04" font-size="12.6" text-anchor="end" fill="#000" textLength="56.86" lengthAdjust="spacingAndGlyphs" stroke="#000" stroke-width="0.16">hpNorthAsia</text>
<text x="387.90" y="630.31" font-size="12.6" font-style="italic" stroke="#000" stroke-width="0.16" textLength="13.21" lengthAdjust="spacingAndGlyphs">Hp</text>
<text x="401.10" y="630.31" font-size="12.6" stroke="#000" stroke-width="0.16" textLength="60.10" lengthAdjust="spacingAndGlyphs">GP “hspUral”</text>
<text x="461.20" y="646.58" font-size="12.6" text-anchor="end" fill="#000" textLength="37.34" lengthAdjust="spacingAndGlyphs" stroke="#000" stroke-width="0.16">hpAsia2</text>
<text x="474.10" y="664.13" font-size="12.4" text-anchor="middle" fill="#1a1a1a" textLength="19.55" lengthAdjust="spacingAndGlyphs">0.00</text>
<text x="522.47" y="664.13" font-size="12.4" text-anchor="middle" fill="#1a1a1a" textLength="19.55" lengthAdjust="spacingAndGlyphs">0.25</text>
<text x="574.35" y="664.13" font-size="12.4" text-anchor="middle" fill="#1a1a1a" textLength="19.55" lengthAdjust="spacingAndGlyphs">0.50</text>
<text x="622.72" y="664.13" font-size="12.4" text-anchor="middle" fill="#1a1a1a" textLength="19.55" lengthAdjust="spacingAndGlyphs">0.75</text>
<text x="674.40" y="664.13" font-size="12.4" text-anchor="middle" fill="#1a1a1a" textLength="19.55" lengthAdjust="spacingAndGlyphs">1.00</text>
<text x="682.90" y="675.43" font-size="8.8" text-anchor="end" fill="#222" textLength="96.29" lengthAdjust="spacingAndGlyphs" stroke="#222" stroke-width="0.15">Average copying probability</text>
<path d="M491.60 494.95H496.10" stroke="#cc2840" stroke-width="1.2"/>
<rect x="489.00" y="489.05" width="2.60" height="11.80" fill="#fff" stroke="#cc2840" stroke-width="1.2"/>
<path d="M489.60 489.05V500.85" stroke="#cc2840" stroke-width="1.8"/>
<circle cx="498.10" cy="494.95" r="2.42" fill="#cc2840"/>
<rect x="486.90" y="504.77" width="2" height="12.80" rx="0.8" fill="#cc2840"/>
<rect x="487.40" y="520.99" width="2" height="12.80" rx="0.8" fill="#cc2840"/>
<circle cx="486.30" cy="527.39" r="2.42" fill="#cc2840"/>
<circle cx="490.30" cy="527.39" r="2.42" fill="#cc2840"/>
<rect x="489.00" y="537.21" width="2" height="12.80" rx="0.8" fill="#cc2840"/>
<circle cx="495.50" cy="543.61" r="2.42" fill="#cc2840"/>
<path d="M487.10 559.83H488.80" stroke="#cc2840" stroke-width="1.2"/>
<rect x="488.80" y="553.93" width="1.80" height="11.80" fill="#cc2840" stroke="#cc2840" stroke-width="1.2"/>
<path d="M489.40 576.05H491.00" stroke="#cc2840" stroke-width="1.2"/>
<rect x="491.00" y="570.15" width="1.40" height="11.80" fill="#cc2840" stroke="#cc2840" stroke-width="1.2"/>
<circle cx="496.00" cy="576.05" r="2.42" fill="#cc2840"/>
<circle cx="498.00" cy="576.05" r="2.42" fill="#cc2840"/>
<circle cx="500.50" cy="576.05" r="2.42" fill="#cc2840"/>
<path d="M491.10 592.27H492.80" stroke="#cc2840" stroke-width="1.2"/>
<rect x="492.80" y="586.37" width="1.70" height="11.80" fill="#cc2840" stroke="#cc2840" stroke-width="1.2"/>
<circle cx="497.70" cy="592.27" r="2.42" fill="#cc2840"/>
<circle cx="499.70" cy="592.27" r="2.42" fill="#cc2840"/>
<path d="M516.90 608.49H518.30" stroke="#cc2840" stroke-width="1.2"/>
<path d="M520.20 608.49H521.90" stroke="#cc2840" stroke-width="1.2"/>
<rect x="518.30" y="602.59" width="1.90" height="11.80" fill="#cc2840" stroke="#cc2840" stroke-width="1.2"/>
<path d="M498.40 624.71H507.00" stroke="#cc2840" stroke-width="1.2"/>
<path d="M535.40 624.71H568.90" stroke="#cc2840" stroke-width="1.2"/>
<rect x="507.00" y="618.81" width="28.40" height="11.80" fill="#fff" stroke="#cc2840" stroke-width="1.2"/>
<path d="M513.30 618.81V630.61" stroke="#cc2840" stroke-width="1.8"/>
<path d="M487.00 640.93H490.70" stroke="#cc2840" stroke-width="1.2"/>
<path d="M494.50 640.93H497.80" stroke="#cc2840" stroke-width="1.2"/>
<rect x="490.70" y="635.03" width="3.80" height="11.80" fill="#fff" stroke="#cc2840" stroke-width="1.2"/>
<rect x="490.70" y="635.03" width="1.30" height="11.80" fill="#cc2840" fill-opacity="1"/>
<path d="M492.00 635.03V646.83" stroke="#cc2840" stroke-width="1.8"/>
<circle cx="503.00" cy="640.93" r="2.42" fill="#cc2840"/>
</g>
</svg>
</body></html>
